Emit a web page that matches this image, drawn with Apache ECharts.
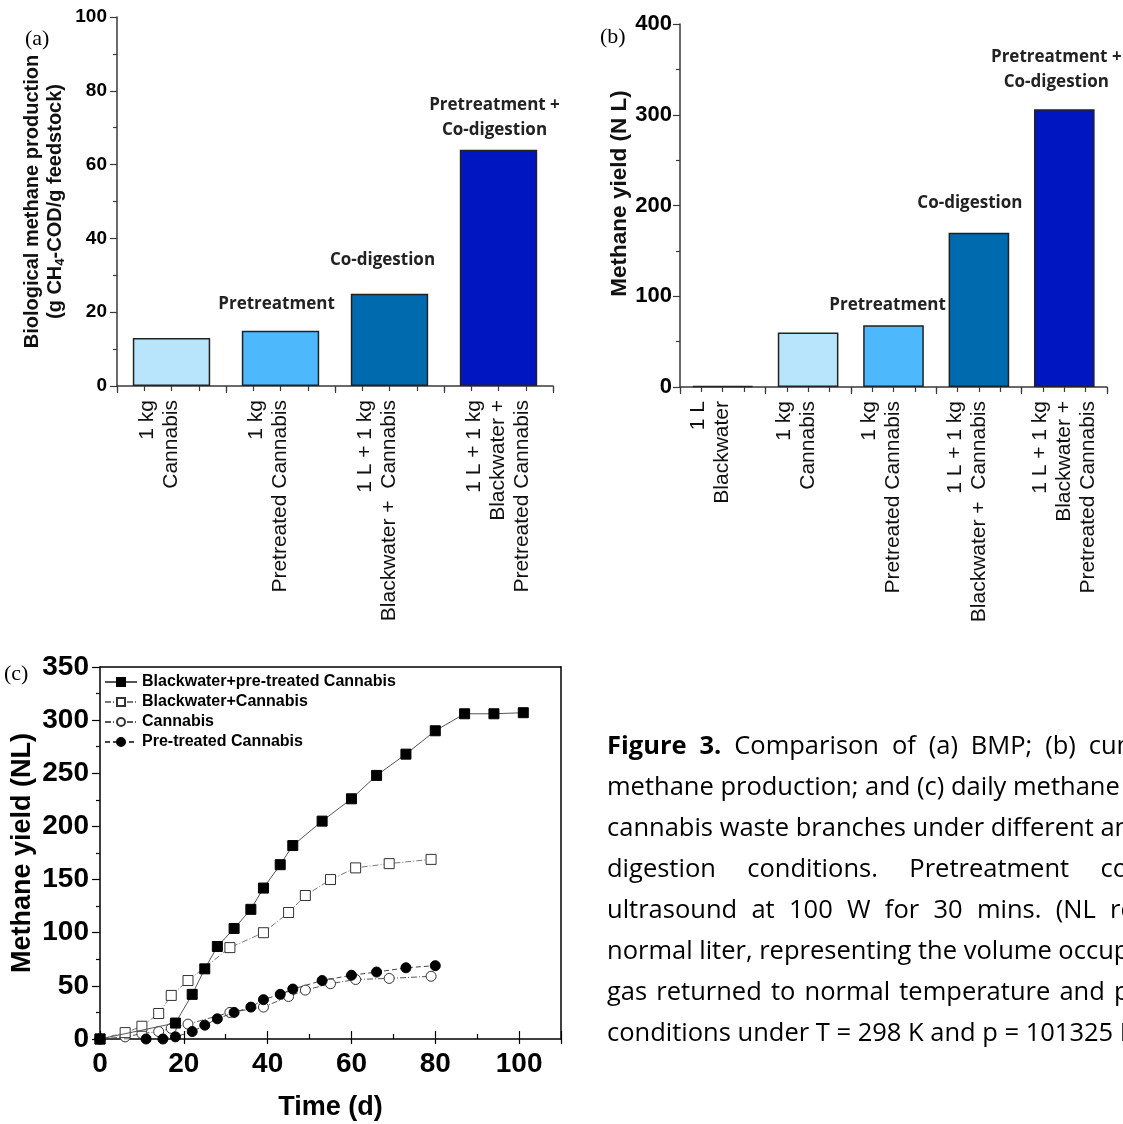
<!DOCTYPE html>
<html><head><meta charset="utf-8">
<script src="https://cdn.jsdelivr.net/npm/echarts@6/dist/echarts.min.js"></script>
<style>
html,body{margin:0;padding:0;overflow:hidden;background:#fff;width:1123px;height:1124px;}
#chart{position:absolute;left:0;top:0;width:1123px;height:1124px;}
#cap{position:absolute;left:607px;top:724px;width:800px;font-family:'Open Sans',sans-serif;font-size:25.5px;line-height:41px;color:#000;}
#cap div{height:41px;overflow:hidden;white-space:nowrap;}
#cap div.j{width:612px;white-space:normal;text-align:justify;text-align-last:justify;}
</style></head><body>
<div id="chart"></div>
<div id="cap"></div>
<script>
// ---- data ----
const catsA = ['1 kg\nCannabis', '1 kg\nPretreated Cannabis', '1 L + 1 kg\nBlackwater +  Cannabis', '1 L + 1 kg\nBlackwater +\nPretreated Cannabis'];
const valsA = [13, 15, 25, 64];
const notesA = ['', 'Pretreatment', 'Co-digestion', 'Pretreatment +\nCo-digestion'];

const catsB = ['1 L\nBlackwater', '1 kg\nCannabis', '1 kg\nPretreated Cannabis', '1 L + 1 kg\nBlackwater +  Cannabis', '1 L + 1 kg\nBlackwater +\nPretreated Cannabis'];
const valsB = [1, 60, 68, 170, 306];
const notesB = ['', '', 'Pretreatment', 'Co-digestion', 'Pretreatment +\nCo-digestion'];

const seriesNames = ['Blackwater+pre-treated Cannabis', 'Blackwater+Cannabis', 'Cannabis', 'Pre-treated Cannabis'];
const dayBWPre = [0, 18, 22, 25, 28, 32, 36, 39, 43, 46, 53, 60, 66, 73, 80, 87, 94, 101];
const yieldBWPre = [0, 15, 42, 66, 87, 104, 122, 142, 164, 182, 205, 226, 248, 268, 290, 306, 306, 307];
const dayBW = [0, 6, 10, 14, 17, 21, 31, 39, 45, 49, 55, 61, 69, 79];
const yieldBW = [0, 6, 12, 24, 41, 55, 86, 100, 119, 135, 150, 161, 165, 169];
const dayCan = [0, 6, 10, 14, 17, 21, 31, 39, 45, 49, 55, 61, 69, 79];
const yieldCan = [0, 2, 5, 7, 10, 14, 25, 30, 40, 46, 52, 56, 57, 59];
const dayPre = [0, 11, 15, 18, 22, 25, 28, 32, 36, 39, 43, 46, 53, 60, 66, 73, 80];
const yieldPre = [0, 0, 0, 2, 7, 13, 19, 25, 30, 37, 42, 47, 55, 60, 63, 67, 69];

const captionLines = [
  '<b>Figure 3.</b> Comparison of (a) BMP; (b) cumulative',
  'methane production; and (c) daily methane production of',
  'cannabis waste branches under different anaerobic',
  'digestion conditions. Pretreatment condition:',
  'ultrasound at 100 W for 30 mins. (NL refers to',
  'normal liter, representing the volume occupied by the',
  'gas returned to normal temperature and pressure',
  'conditions under T = 298 K and p = 101325 Pa).'
];
const captionJustified = [true, false, false, true, true, false, true, false];

// ---- styles ----
const barColorsA = ['#b8e4fc', '#4db8fc', '#006aae', '#0016c0'];
const barColorsB = ['#444444', '#b8e4fc', '#4db8fc', '#006aae', '#0016c0'];
const noteDistA = [0, 14, 21, 7];
const noteOffA = [0, -4, -7, -4];
const noteDistB = [0, 0, 8, 17, 15];
const noteOffB = [0, 0, -6, -9, -8];

const SANS = 'Liberation Sans';
const AX = '#3a3a3a';

document.getElementById('cap').innerHTML = captionLines.map((l, i) =>
  '<div' + (captionJustified[i] ? ' class="j"' : '') + '>' + l + '</div>').join('');

function pad3(s) {
  const lines = s.split('\n');
  while (lines.length < 3) lines.push(' ');
  return lines.join('\n');
}

function barData(vals, colors, notes, dists, offs) {
  return vals.map((v, i) => ({
    value: v,
    itemStyle: { color: colors[i] },
    label: {
      show: !!notes[i], formatter: notes[i] || '', distance: dists[i], offset: [offs[i], 0]
    }
  }));
}

const noteLabel = {
  position: 'top', fontFamily: 'Open Sans', fontWeight: 'bold', fontSize: 17,
  lineHeight: 25, color: '#222'
};

function catAxis(grid, cats) {
  return {
    type: 'category', gridIndex: grid, data: cats, position: 'bottom',
    axisLine: { lineStyle: { color: AX, width: 1.5 } },
    axisTick: { show: true, length: 7, lineStyle: { color: AX, width: 1.2 } },
    axisLabel: {
      rotate: 90, interval: 0, margin: 14, fontFamily: SANS, fontSize: 21,
      lineHeight: 24, color: '#111', formatter: v => pad3(v)
    }
  };
}
function subTickAxis(grid, n) {
  return {
    type: 'category', gridIndex: grid, data: new Array(n).fill(''), position: 'bottom',
    axisLine: { show: false }, axisLabel: { show: false },
    axisTick: { show: true, length: 5, lineStyle: { color: AX, width: 1.2 } }
  };
}

const option = {
  animation: false,
  backgroundColor: '#fff',
  grid: [
    { left: 117, top: 17, width: 436, height: 369 },
    { left: 680, top: 24, width: 427, height: 363 },
    { left: 100, top: 667, width: 461, height: 372 }
  ],
  xAxis: [
    catAxis(0, catsA),
    subTickAxis(0, catsA.length * 4),
    catAxis(1, catsB),
    subTickAxis(1, catsB.length * 4),
    {
      type: 'value', gridIndex: 2, min: 0, max: 110, interval: 20, position: 'bottom',
      axisLine: { onZero: false, lineStyle: { color: '#000', width: 1.5 } },
      axisTick: { length: 5, lineStyle: { color: '#000', width: 1.2 } },
      minorTick: { show: false },
      splitLine: { show: false },
      axisLabel: { margin: 11, fontFamily: SANS, fontWeight: 'bold', fontSize: 28, color: '#000',
        formatter: v => (v > 100 ? '' : String(v)) },
      name: 'Time (d)', nameLocation: 'middle', nameGap: 55,
      nameTextStyle: { fontFamily: SANS, fontWeight: 'bold', fontSize: 27, color: '#000' }
    },
    {
      type: 'value', gridIndex: 2, min: 0, max: 110, interval: 20, position: 'bottom',
      axisLine: { show: false },
      axisTick: { inside: true, length: 8, lineStyle: { color: '#000', width: 1.2 } },
      minorTick: { show: true, splitNumber: 2, length: 5, lineStyle: { color: '#000', width: 1.2 } },
      splitLine: { show: false }, axisLabel: { show: false }
    },
    {
      type: 'value', gridIndex: 2, min: 0, max: 110, position: 'top',
      axisLine: { onZero: false, lineStyle: { color: '#000', width: 1.5 } },
      axisTick: { show: false }, axisLabel: { show: false }, splitLine: { show: false }
    }
  ],
  yAxis: [
    {
      type: 'value', gridIndex: 0, min: 0, max: 100, interval: 20,
      axisLine: { show: true, lineStyle: { color: AX, width: 1.5 } },
      axisTick: { show: true, length: 7, lineStyle: { color: AX, width: 1.2 } },
      minorTick: { show: true, splitNumber: 2, length: 4, lineStyle: { color: AX, width: 1.2 } },
      splitLine: { show: false },
      axisLabel: { margin: 10, fontFamily: SANS, fontWeight: 'bold', fontSize: 19, color: '#000' },
      name: 'Biological methane production\n(g CH{s|4}-COD/g feedstock)',
      nameLocation: 'middle', nameGap: 50,
      nameTextStyle: {
        fontFamily: SANS, fontWeight: 'bold', fontSize: 20, lineHeight: 23, color: '#111',
        rich: { s: { fontFamily: SANS, fontWeight: 'bold', fontSize: 13, verticalAlign: 'bottom', lineHeight: 23, color: '#111' } }
      }
    },
    {
      type: 'value', gridIndex: 1, min: 0, max: 400, interval: 100,
      axisLine: { show: true, lineStyle: { color: AX, width: 1.5 } },
      axisTick: { show: true, length: 7, lineStyle: { color: AX, width: 1.2 } },
      minorTick: { show: true, splitNumber: 2, length: 4, lineStyle: { color: AX, width: 1.2 } },
      splitLine: { show: false },
      axisLabel: { margin: 8, fontFamily: SANS, fontWeight: 'bold', fontSize: 22, color: '#000' },
      name: 'Methane yield (N L)', nameLocation: 'middle', nameGap: 44,
      nameTextStyle: { fontFamily: SANS, fontWeight: 'bold', fontSize: 22.5, color: '#111', padding: [0, 0, 0, 24] }
    },
    {
      type: 'value', gridIndex: 2, min: 0, max: 350, interval: 50,
      axisLine: { onZero: false, lineStyle: { color: '#000', width: 1.5 } },
      axisTick: { length: 8, lineStyle: { color: '#000', width: 1.2 } },
      minorTick: { show: true, splitNumber: 2, length: 4, lineStyle: { color: '#000', width: 1.2 } },
      splitLine: { show: false },
      axisLabel: { margin: 11, fontFamily: SANS, fontWeight: 'bold', fontSize: 28, color: '#000' },
      name: 'Methane yield (NL)', nameLocation: 'middle', nameGap: 64,
      nameTextStyle: { fontFamily: SANS, fontWeight: 'bold', fontSize: 27, color: '#000' }
    },
    {
      type: 'value', gridIndex: 2, min: 0, max: 350, position: 'right',
      axisLine: { show: true, onZero: false, lineStyle: { color: '#000', width: 1.5 } },
      axisTick: { show: false }, axisLabel: { show: false }, splitLine: { show: false }
    }
  ],
  legend: {
    orient: 'vertical', left: 104, top: 674, padding: 0,
    itemWidth: 32, itemHeight: 10, itemGap: 4,
    data: seriesNames,
    textStyle: { fontFamily: SANS, fontWeight: 'bold', fontSize: 16, color: '#000' }
  },
  graphic: [
    { type: 'text', left: 25, top: 28, style: { text: '(a)', font: '22px "Liberation Serif"', fill: '#000' } },
    { type: 'text', left: 600, top: 26, style: { text: '(b)', font: '22px "Liberation Serif"', fill: '#000' } },
    { type: 'text', left: 4, top: 663, style: { text: '(c)', font: '22px "Liberation Serif"', fill: '#000' } }
  ],
  series: [
    {
      type: 'bar', xAxisIndex: 0, yAxisIndex: 0, barWidth: '71%',
      itemStyle: { borderColor: '#222', borderWidth: 1.5 },
      label: noteLabel,
      data: barData(valsA, barColorsA, notesA, noteDistA, noteOffA)
    },
    {
      type: 'bar', xAxisIndex: 2, yAxisIndex: 1, barWidth: '71%',
      itemStyle: { borderColor: '#222', borderWidth: 1.5 },
      label: noteLabel,
      data: barData(valsB, barColorsB, notesB, noteDistB, noteOffB)
    },
    {
      name: seriesNames[0], type: 'line', xAxisIndex: 4, yAxisIndex: 2,
      symbol: 'rect', symbolSize: 10,
      itemStyle: { color: '#000', borderColor: '#000', borderWidth: 1 },
      lineStyle: { color: '#555', width: 1, type: 'solid' },
      data: dayBWPre.map((d, i) => [d, yieldBWPre[i]]), z: 5
    },
    {
      name: seriesNames[1], type: 'line', xAxisIndex: 4, yAxisIndex: 2,
      symbol: 'rect', symbolSize: 10,
      itemStyle: { color: '#fff', borderColor: '#333', borderWidth: 1 },
      lineStyle: { color: '#777', width: 1, type: [6, 2, 1, 2] },
      data: dayBW.map((d, i) => [d, yieldBW[i]]), z: 4
    },
    {
      name: seriesNames[2], type: 'line', xAxisIndex: 4, yAxisIndex: 2,
      symbol: 'circle', symbolSize: 10,
      itemStyle: { color: '#fff', borderColor: '#333', borderWidth: 1 },
      lineStyle: { color: '#555', width: 1, type: [6, 2, 1, 2] },
      data: dayCan.map((d, i) => [d, yieldCan[i]]), z: 3
    },
    {
      name: seriesNames[3], type: 'line', xAxisIndex: 4, yAxisIndex: 2,
      symbol: 'circle', symbolSize: 10,
      itemStyle: { color: '#000', borderColor: '#000', borderWidth: 1 },
      lineStyle: { color: '#444', width: 1, type: [5, 3] },
      data: dayPre.map((d, i) => [d, yieldPre[i]]), z: 4
    }
  ]
};

const chart = echarts.init(document.getElementById('chart'), null, { renderer: 'canvas' });
chart.setOption(option);
</script>
</body></html>
